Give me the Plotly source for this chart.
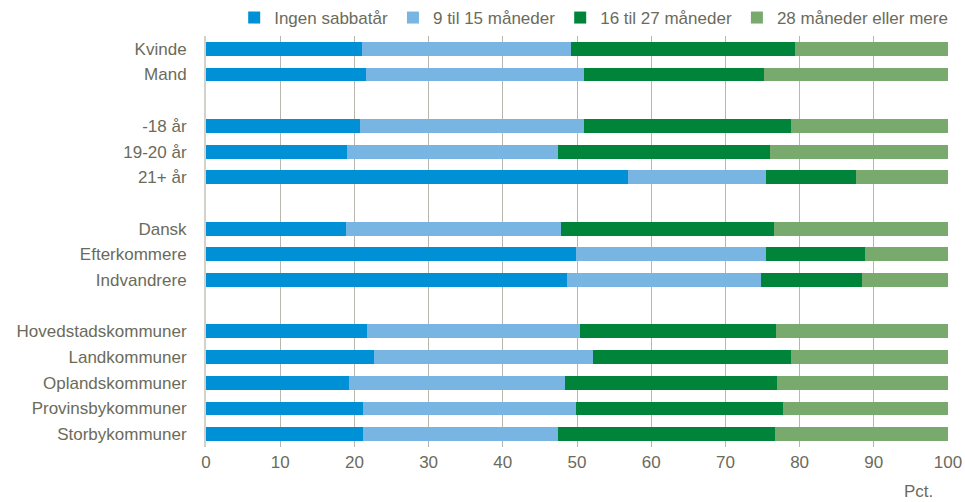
import plotly.graph_objects as go

categories = ["Kvinde", "Mand", " ", "-18 år", "19-20 år", "21+ år", "  ",
              "Dansk", "Efterkommere", "Indvandrere", "   ",
              "Hovedstadskommuner", "Landkommuner", "Oplandskommuner",
              "Provinsbykommuner", "Storbykommuner"]

ingen = [21.0, 21.6, None, 20.7, 19.0, 56.9, None, 18.9, 49.9, 48.7, None, 21.7, 22.6, 19.3, 21.1, 21.2]
m9_15 = [28.2, 29.4, None, 30.2, 28.5, 18.6, None, 28.9, 25.6, 26.1, None, 28.7, 29.6, 29.1, 28.8, 26.3]
m16_27 = [30.2, 24.2, None, 27.9, 28.5, 12.1, None, 28.7, 13.3, 13.6, None, 26.4, 26.6, 28.6, 27.9, 29.2]
m28 = [20.6, 24.8, None, 21.2, 24.0, 12.4, None, 23.5, 11.2, 11.6, None, 23.2, 21.2, 23.0, 22.2, 23.3]

series_names = ["Ingen sabbatår", "9 til 15 måneder", "16 til 27 måneder", "28 måneder eller mere"]
series_values = [ingen, m9_15, m16_27, m28]
colors = ["#0090d5", "#78b5e3", "#00843a", "#78aa6e"]

x_ticks = [0, 10, 20, 30, 40, 50, 60, 70, 80, 90, 100]

TEXT = "#6b6b5b"
FONT = "Liberation Sans Narrow, Arial Narrow, Liberation Sans, sans-serif"

fig = go.Figure()
for name, vals, col in zip(series_names, series_values, colors):
    fig.add_trace(go.Bar(
        y=categories, x=vals, name=name, orientation="h",
        marker=dict(color=col, line=dict(width=0)),
        width=0.54,
    ))

fig.update_layout(
    barmode="stack",
    width=965, height=502,
    margin=dict(l=206, r=17, t=36, b=55, autoexpand=False),
    paper_bgcolor="white", plot_bgcolor="white",
    font=dict(family=FONT, size=17, color=TEXT),
    legend=dict(orientation="h", x=1.007, xanchor="right", y=1.0, yanchor="bottom",
                font=dict(size=17, color=TEXT), traceorder="normal",
                itemclick=False, bgcolor="rgba(0,0,0,0)"),
    xaxis=dict(range=[0, 100], tickvals=x_ticks, showgrid=True, gridcolor="#b9b6ab",
               gridwidth=1, zeroline=False, showline=False, ticks="",
               ticklabelstandoff=3,
               tickfont=dict(size=17, color=TEXT), fixedrange=True),
    yaxis=dict(type="category", categoryorder="array", categoryarray=categories,
               autorange="reversed", showgrid=False, showline=True, linecolor="#d3d1c9",
               linewidth=2, ticks="", ticklabelstandoff=14,
               tickfont=dict(size=17, color=TEXT), fixedrange=True),
)

fig.add_annotation(text="Pct.", xref="x", yref="paper", x=96.0, y=0, yshift=-56,
                   showarrow=False, font=dict(size=17, color=TEXT), xanchor="center")

fig.write_html("out.html", config={"displayModeBar": False},
               post_script="document.body.style.margin='0';document.body.style.overflow='hidden';")
